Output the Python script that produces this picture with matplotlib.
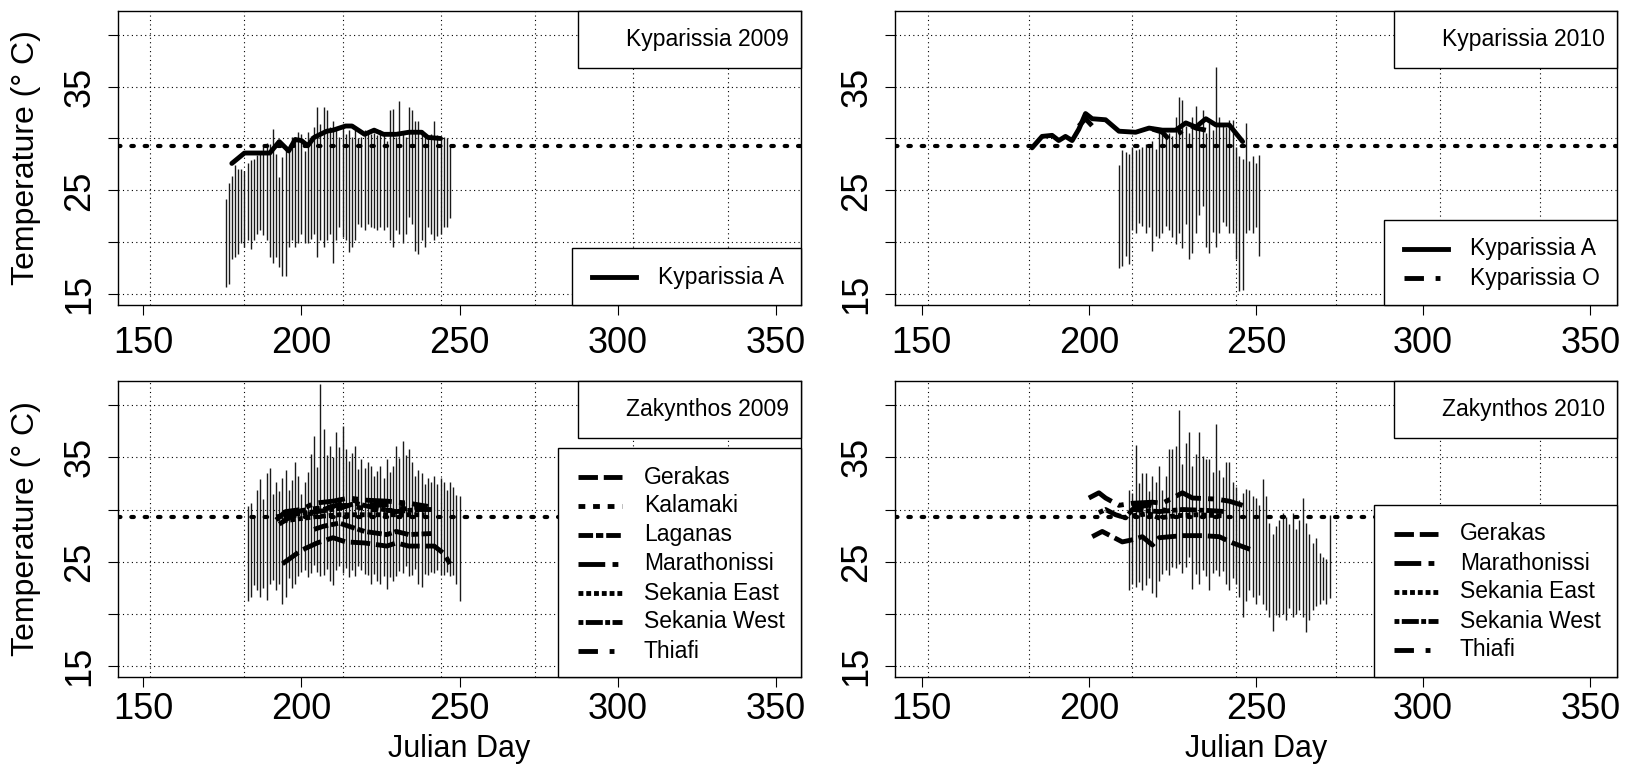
import matplotlib
matplotlib.use("Agg")
import numpy as np
import matplotlib.pyplot as plt
from matplotlib.lines import Line2D
from matplotlib.patches import Rectangle

plt.rcParams['font.family'] = ['Liberation Sans', 'DejaVu Sans']

W, H = 1633, 767
PIVOTAL = 29.3
MONTH_STARTS = [152, 182, 213, 244, 274, 305, 335]

# --- Kyparissia 2009: daily air temperature range and nest line
kyp09_days = list(range(176, 248))
kyp09_max = [24.2, 25.7, 26.4, 27.4, 27.1, 27.1, 26.9, 27.6, 27.9, 28.0,
             28.4, 28.8, 29.5, 29.6, 29.5, 30.9, 28.5, 26.3, 28.2, 29.2,
             28.8, 30.1, 30.1, 30.6, 30.4, 28.8, 30.6, 30.2, 31.1, 33.0,
             31.4, 33.0, 32.7, 31.1, 31.7, 31.1, 30.1, 31.1, 30.4, 30.8,
             30.1, 30.8, 30.0, 30.1, 30.8, 30.6, 30.4, 30.5, 30.3, 30.8,
             30.3, 29.8, 32.7, 32.8, 30.1, 33.6, 30.4, 30.1, 33.0, 32.7,
             31.7, 31.7, 30.8, 30.4, 30.1, 30.4, 31.7, 30.3, 30.1, 30.1,
             30.0, 29.5]
kyp09_min = [15.7, 16.0, 18.4, 18.6, 18.9, 19.9, 19.6, 20.2, 19.4, 20.2,
             20.8, 21.2, 20.7, 20.2, 18.6, 18.0, 18.6, 17.6, 16.8, 16.8,
             19.6, 20.2, 19.6, 19.9, 20.8, 19.9, 19.9, 20.3, 20.8, 18.6,
             20.2, 19.6, 20.2, 20.8, 18.0, 20.2, 21.5, 20.5, 20.2, 19.1,
             19.6, 20.2, 21.8, 21.5, 21.2, 21.8, 21.5, 21.4, 21.2, 21.5,
             21.2, 21.5, 20.2, 19.6, 21.2, 20.8, 19.9, 20.8, 22.4, 21.8,
             19.2, 18.9, 20.2, 19.6, 21.5, 20.8, 20.2, 20.6, 20.8, 21.5,
             21.5, 22.3]
kyp09_a_days = [178, 182, 190, 193, 196, 198, 200, 202, 204, 208, 210,
                214, 216, 220, 223, 226, 230, 234, 238, 240, 244]
kyp09_a_temp = [27.6, 28.6, 28.6, 29.7, 28.8, 29.9, 29.8, 29.3, 30.1, 30.7,
                30.8, 31.2, 31.2, 30.4, 30.8, 30.4, 30.4, 30.6, 30.6, 30.1,
                30.0]

# --- Kyparissia 2010
kyp10_days = list(range(209, 252))
kyp10_max = [27.4, 28.9, 28.7, 28.5, 29.2, 28.9, 29.0, 29.2, 29.5, 29.3,
             29.8, 29.0, 30.5, 30.7, 30.0, 30.5, 30.2, 32.1, 34.0, 33.7,
             31.2, 30.5, 32.1, 33.1, 31.0, 32.7, 30.5, 31.5, 30.8, 36.9,
             32.1, 31.4, 31.1, 31.8, 31.8, 29.2, 28.3, 28.0, 31.5, 27.8,
             28.3, 27.6, 28.4]
kyp10_min = [17.5, 17.7, 18.7, 17.9, 21.2, 20.9, 21.9, 21.6, 20.9, 21.5,
             19.2, 20.6, 20.4, 20.9, 21.6, 21.2, 20.5, 19.8, 20.9, 19.5,
             21.8, 18.4, 19.0, 20.9, 22.6, 23.5, 19.6, 19.0, 21.0, 19.6,
             20.9, 22.0, 21.6, 20.9, 20.9, 18.4, 15.3, 15.4, 20.9, 21.2,
             20.9, 21.5, 18.7]
kyp10_a_days = [183, 186, 189, 191, 193, 195, 197, 199, 201, 205, 209,
                214, 218, 222, 226, 229, 232, 235, 238, 242, 244, 246]
kyp10_a_temp = [29.1, 30.2, 30.3, 29.8, 30.2, 29.8, 30.9, 32.4, 31.9, 31.8,
                30.7, 30.6, 31.0, 30.8, 30.8, 31.5, 31.1, 31.9, 31.3, 31.3,
                30.5, 29.7]
kyp10_o_days = [197, 199, 201, 203, np.nan, 219, 222, 224, 227, 230, 232, 235]
kyp10_o_temp = [31.2, 31.9, 31.2, 30.8, np.nan, 30.9, 30.6, 29.9, 30.5,
                31.3, 31.0, 30.8]

# --- Zakynthos 2009
zak09_days = list(range(183, 251))
zak09_max = [30.3, 30.6, 29.5, 31.9, 32.9, 31.0, 33.5, 34.0, 31.5, 32.6,
             31.8, 33.0, 33.8, 31.9, 32.8, 34.5, 33.2, 31.5, 32.6, 33.6,
             35.3, 37.0, 34.1, 42.0, 37.7, 35.2, 36.1, 35.0, 37.4, 36.0,
             38.0, 35.8, 34.6, 35.4, 36.1, 33.9, 34.8, 34.0, 34.5, 34.2,
             33.2, 33.7, 34.2, 33.0, 34.8, 33.6, 34.2, 36.1, 34.9, 36.6,
             35.2, 35.8, 34.5, 33.2, 33.8, 33.5, 32.4, 33.0, 32.6, 33.2,
             32.4, 33.0, 32.6, 31.9, 32.6, 32.2, 31.4, 31.3]
zak09_min = [21.2, 21.6, 22.8, 22.3, 21.6, 22.5, 21.3, 22.9, 23.3, 22.3,
             22.9, 21.0, 21.6, 23.4, 22.5, 22.9, 23.6, 24.0, 24.2, 23.5,
             23.9, 24.7, 24.0, 23.6, 23.7, 24.3, 23.2, 22.8, 24.2, 24.6,
             23.9, 24.4, 23.5, 24.2, 23.6, 24.6, 24.2, 23.8, 23.7, 22.9,
             23.8, 23.2, 22.9, 23.6, 22.4, 23.5, 23.2, 23.6, 24.1, 23.9,
             24.6, 23.6, 23.7, 24.3, 22.9, 22.6, 23.8, 23.7, 24.0, 23.9,
             24.2, 23.7, 23.7, 24.0, 23.6, 23.7, 22.9, 21.2]
zak09_lines = {
    'Gerakas': ([194, 200, 205, 210, 214, 220, 227, 230, 234, 242, 245, 247],
                [24.8, 26.1, 26.8, 27.3, 26.9, 26.8, 26.5, 26.8, 26.5, 26.5, 25.8, 24.8]),
    'Kalamaki': ([195, 200, 207, 214, 222, 229, 236, 240],
                 [29.2, 29.9, 30.2, 30.4, 30.0, 29.9, 30.2, 30.1]),
    'Laganas': ([204, 207, 212, 215, 220, 227, 230, 234, 241],
                [28.1, 28.4, 28.7, 28.4, 27.9, 27.6, 27.9, 27.6, 27.7]),
    'Marathonissi': ([192, 195, 200, 204, 210, 215, 220, 227, 234, 240],
                     [29.0, 29.8, 30.0, 30.6, 30.8, 31.1, 30.9, 30.8, 30.6, 30.3]),
    'Sekania East': ([194, 204, 212, 220, 230, 239],
                     [28.9, 29.3, 29.5, 29.5, 29.5, 29.5]),
    'Sekania West': ([192, 199, 205, 212, 217, 224, 230, 237, 242],
                     [29.3, 29.6, 29.8, 30.1, 30.6, 30.1, 29.8, 30.0, 30.0]),
    'Thiafi': ([193, 197, 203, 210, 216, 223, 231, 238],
               [28.6, 29.4, 29.6, 30.3, 30.9, 30.4, 30.5, 30.3]),
}

# --- Zakynthos 2010
zak10_days = list(range(212, 273))
zak10_max = [31.9, 31.6, 36.2, 32.5, 33.5, 33.5, 31.8, 33.2, 32.6, 34.2,
             31.9, 33.2, 35.8, 35.8, 36.1, 39.5, 34.4, 36.4, 37.4, 34.2,
             35.3, 37.4, 35.1, 34.8, 34.8, 33.6, 38.2, 33.8, 33.1, 34.5,
             34.5, 32.6, 32.2, 30.9, 31.6, 32.0, 31.9, 31.3, 31.1, 30.4,
             32.9, 31.3, 28.7, 27.7, 28.4, 29.0, 29.7, 29.3, 28.6, 29.7,
             28.1, 29.0, 31.1, 28.7, 27.7, 26.8, 27.3, 25.8, 25.5, 25.3,
             29.5]
zak10_min = [22.3, 22.9, 22.6, 23.1, 22.3, 22.8, 23.4, 22.0, 21.6, 23.2,
             23.8, 24.2, 23.7, 24.5, 24.4, 24.8, 23.9, 24.5, 25.5, 22.4,
             23.8, 22.9, 24.2, 23.6, 22.3, 23.9, 24.2, 23.6, 24.1, 22.9,
             22.3, 23.4, 22.9, 21.6, 19.7, 21.2, 22.3, 21.6, 21.0, 21.8,
             21.0, 20.4, 19.7, 18.4, 19.9, 19.7, 20.0, 19.4, 20.6, 19.7,
             20.0, 20.4, 19.7, 18.3, 19.4, 20.4, 20.8, 21.0, 21.3, 21.0,
             21.5]
zak10_lines = {
    'Gerakas': ([201, 204, 207, 210, 213, 216, 219, 221, 228, 234, 239, 243, 249],
                [27.4, 27.9, 27.4, 26.9, 27.1, 27.4, 26.6, 27.3, 27.5, 27.5, 27.4, 26.8, 26.1]),
    'Marathonissi': ([200, 203, 205, 209, 213, 219, 222, 225, 228, 231, 238, 242, 246],
                     [31.1, 31.6, 31.1, 30.4, 30.6, 30.7, 30.6, 31.1, 31.6, 31.1, 31.0, 30.8, 30.4]),
    'Sekania East': ([213, 218, 221, 226, 232, 240],
                     [29.4, 29.6, 29.2, 29.4, 29.5, 29.4]),
    'Sekania West': ([203, 205, 208, 211, 213, 221, 228, 236, 241],
                     [29.7, 30.0, 29.5, 29.2, 30.0, 29.8, 30.0, 29.9, 29.8]),
    'Thiafi': ([213, 218, 223, 226],
               [30.2, 30.4, 29.9, 30.3]),
}

# line styles of the nest series (dash lengths in units of line width)
STYLES = {
    'Kyparissia A': '-',
    'Kyparissia O': (0, (4, 2.4, 1, 2.4)),
    'Gerakas': (0, (4, 1.2)),
    'Kalamaki': (0, (1.4, 1.6)),
    'Laganas': (0, (3, 0.6, 1.5, 0.6)),
    'Marathonissi': (0, (5.5, 1.5, 1.2, 1.5)),
    'Sekania East': (0, (1, 0.6)),
    'Sekania West': (0, (1, 0.5, 3.5, 0.5)),
    'Thiafi': (0, (4, 2.4, 1, 2.4)),
}
LW = 3.5

fig = plt.figure(figsize=(W / 100, H / 100), dpi=100)


def fx(x):
    return x / W


def fy(y):
    return 1 - y / H


def add_box(x0, y0, x1, y1):
    fig.add_artist(Rectangle((fx(x0), fy(y1)), (x1 - x0) / W, (y1 - y0) / H,
                             transform=fig.transFigure, facecolor='white',
                             edgecolor='black', lw=1.0, zorder=1))


def draw_panel(rect, days, tmax, tmin, lines, title, legend_left, legend_top,
               ylabel=False, xlabel=False, xpad=4):
    left, top, right, bottom = rect
    ax = fig.add_axes([fx(left), fy(bottom), (right - left) / W, (bottom - top) / H])
    ax.set_xlim(142, 358)
    ax.set_ylim(13.97, 42.3)

    for d in MONTH_STARTS:
        ax.axvline(d, color='black', lw=0.8, ls=(0, (1, 3)), zorder=1)
    for t in range(15, 45, 5):
        ax.axhline(t, color='black', lw=0.8, ls=(0, (1, 3)), zorder=1)

    ax.vlines(days, tmin, tmax, color='0.1', lw=1.0, zorder=2)
    ax.axhline(PIVOTAL, color='black', lw=3, ls=(0, (0.6, 2.6)),
               dash_capstyle='round', zorder=3)
    for name, (d, v) in lines.items():
        ax.plot(d, v, color='black', lw=LW, ls=STYLES[name],
                solid_joinstyle='round', solid_capstyle='round',
                dash_joinstyle='round', zorder=4)

    ax.set_xticks([150, 200, 250, 300, 350])
    ax.set_yticks([15, 20, 25, 30, 35, 40])
    ax.set_yticklabels(['15', '', '25', '', '35', ''], rotation=90, va='center')
    ax.tick_params(axis='both', labelsize=26, length=7, width=0.8, color='black')
    ax.tick_params(axis='x', pad=xpad)
    ax.tick_params(axis='y', pad=8)
    for s in ax.spines.values():
        s.set_linewidth(1.0)

    # title box in the top right corner
    add_box(right - 223, top, right, top + 57)
    fig.text(fx(right - 12), fy(top + 29), title, ha='right', va='center',
             fontsize=16.5, zorder=3)

    # line legend in the bottom right corner
    add_box(legend_left, legend_top, right, bottom)
    for i, name in enumerate(lines):
        y = legend_top + 29 + 29 * i
        fig.add_artist(Line2D([fx(legend_left + 20), fx(legend_left + 64)], [fy(y), fy(y)],
                              transform=fig.transFigure, color='black', lw=LW,
                              ls=STYLES[name], zorder=2))
        fig.text(fx(legend_left + 86), fy(y), name, ha='left', va='center',
                 fontsize=16.5, zorder=3)

    if ylabel:
        fig.text(fx(26), fy((top + bottom) / 2), 'Temperature (° C)', rotation=90,
                 ha='center', va='center', fontsize=23)
    if xlabel:
        fig.text(fx((left + right) / 2), fy(749), 'Julian Day', ha='center',
                 va='center', fontsize=22)
    return ax


draw_panel((118, 10.7, 801, 305), kyp09_days, kyp09_max, kyp09_min,
           {'Kyparissia A': (kyp09_a_days, kyp09_a_temp)},
           'Kyparissia 2009', 572, 248, ylabel=True, xpad=8)
draw_panel((895, 10.7, 1617, 305), kyp10_days, kyp10_max, kyp10_min,
           {'Kyparissia A': (kyp10_a_days, kyp10_a_temp),
            'Kyparissia O': (kyp10_o_days, kyp10_o_temp)},
           'Kyparissia 2010', 1384, 220, xpad=8)
draw_panel((118, 381, 801, 677), zak09_days, zak09_max, zak09_min, zak09_lines,
           'Zakynthos 2009', 558, 448, ylabel=True, xlabel=True, xpad=4)
draw_panel((895, 381, 1617, 677), zak10_days, zak10_max, zak10_min, zak10_lines,
           'Zakynthos 2010', 1374, 505, xlabel=True, xpad=4)

fig.savefig('out.png', dpi=100)
